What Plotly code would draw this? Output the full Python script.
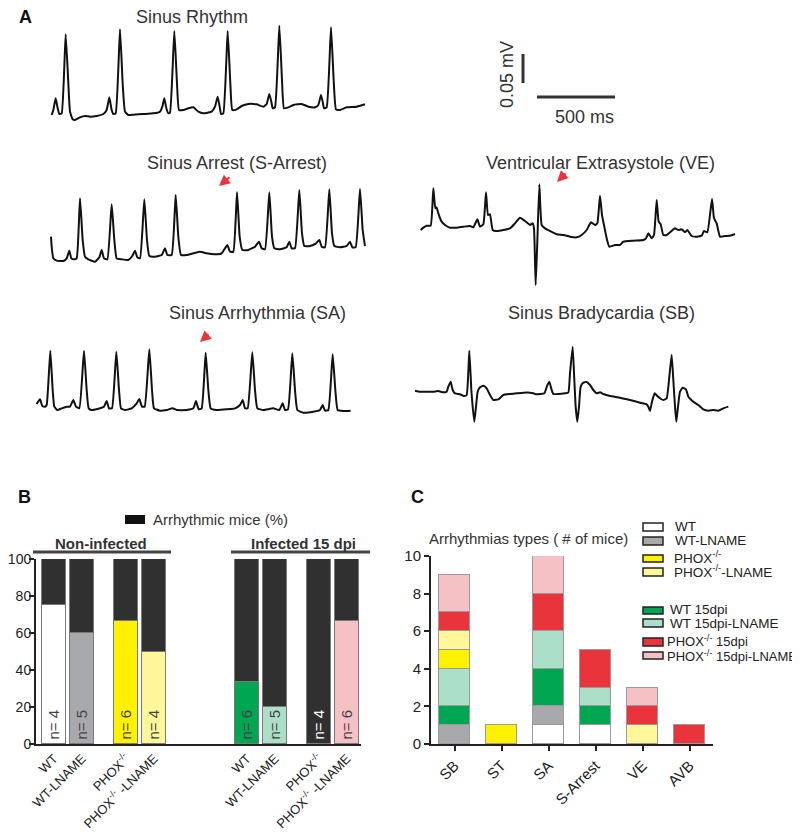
import plotly.graph_objects as go

FONT = "Arial, Liberation Sans, Helvetica, sans-serif"
INK = "#222222"

# ---------------- Panel A: digitised ECG traces ----------------
# time in samples (1 sample ~ 2.16 ms), amplitude in counts (1 count ~ 0.575 uV)
SR = [(155,75),(160,90),(167,125),(173,95),(178,78),(185,80),(197,317),(205,170),(210,85),(218,62),(225,60),
      (240,68),(255,72),(270,70),(290,72),(310,78),(320,90),(328,128),(335,90),(340,78),(347,80),(360,332),
      (368,170),(375,85),(385,75),(400,76),(430,78),(460,80),(480,85),(487,100),(493,125),(499,95),(505,80),
      (510,82),(523,327),(531,170),(537,90),(550,90),(565,95),(580,98),(595,85),(610,80),(635,85),(645,100),
      (653,130),(659,100),(663,78),(670,80),(683,327),(691,170),(697,90),(710,92),(725,102),(745,108),
      (770,107),(790,100),(800,108),(808,138),(814,115),(818,95),(825,98),(838,343),(846,180),(852,95),
      (865,98),(880,105),(905,108),(925,100),(945,98),(955,105),(963,135),(969,110),(972,95),(980,98),
      (993,338),(1001,180),(1008,92),(1020,90),(1040,98),(1070,100),(1095,107)]

S_ARREST = [(153,130),(155,100),(160,65),(170,58),(190,57),(200,65),(208,88),(214,65),(222,62),(230,65),
            (240,245),(248,120),(255,70),(265,62),(285,55),(298,68),(305,90),(312,65),(322,62),(335,227),
            (343,120),(350,65),(365,62),(385,60),(397,72),(405,88),(412,68),(420,65),(433,242),(441,120),
            (448,72),(465,70),(485,75),(495,95),(502,75),(515,75),(527,255),(535,130),(543,75),(560,75),
            (580,80),(600,85),(620,80),(645,77),(665,80),(675,95),(682,105),(690,85),(700,85),(711,263),
            (719,130),(727,90),(745,90),(765,100),(777,115),(785,95),(795,92),(808,263),(816,130),(823,95),
            (840,92),(860,98),(868,115),(875,95),(885,95),(898,270),(906,140),(913,102),(930,102),(948,110),
            (958,120),(965,100),(975,98),(988,272),(996,140),(1003,102),(1020,98),(1040,102),(1050,115),
            (1057,98),(1067,98),(1080,273),(1088,150),(1095,102)]

S_ARRHYTHMIA = [(50,48),(60,62),(67,42),(75,40),(80,45),(91,208),(98,90),(103,40),(112,30),(125,35),(140,40),
                (150,40),(160,60),(168,40),(178,35),(192,208),(200,90),(206,35),(215,30),(240,35),(252,40),
                (260,57),(267,35),(276,35),(289,205),(297,90),(303,35),(315,30),(335,35),(350,50),(358,63),
                (366,40),(374,40),(388,212),(396,90),(402,35),(420,28),(440,30),(458,35),(470,30),(500,30),
                (520,35),(528,57),(536,32),(545,35),(557,202),(565,90),(572,35),(590,30),(620,32),(645,35),
                (660,45),(668,60),(675,35),(683,35),(697,203),(705,90),(712,35),(730,30),(760,35),(778,30),
                (788,50),(795,30),(804,32),(817,200),(825,90),(832,30),(850,22),(880,25),(900,30),(908,45),
                (915,28),(925,30),(938,197),(946,90),(953,30),(970,27),(992,28)]

V_EXTRA = [(62,195),(70,202),(80,208),(92,208),(100,320),(106,260),(110,263),(115,245),(125,220),(135,210),
           (150,202),(170,202),(190,205),(210,207),(220,203),(232,227),(240,205),(250,212),(258,308),(264,240),
           (270,242),(278,195),(290,192),(310,195),(330,200),(345,215),(360,232),(375,222),(390,210),(398,215),
           (402,200),(407,30),(412,160),(418,332),(425,210),(435,200),(450,192),(470,182),(490,180),(510,175),
           (530,173),(545,180),(560,195),(573,218),(585,210),(592,215),(600,298),(606,240),(612,210),(620,170),
           (628,145),(645,150),(660,150),(670,160),(700,163),(730,165),(738,170),(745,185),(755,170),(762,180),
           (770,285),(776,220),(782,212),(790,180),(800,180),(812,190),(825,200),(835,195),(845,197),(855,188),
           (862,195),(875,177),(890,175),(905,178),(912,192),(922,188),(936,288),(942,230),(950,215),(960,175),
           (975,177),(990,178),(1005,183)]

S_BRADY = [(45,88),(60,85),(80,85),(100,85),(115,87),(130,83),(140,85),(145,100),(152,115),(158,90),(165,80),
           (180,77),(192,72),(200,75),(208,208),(214,90),(218,40),(223,-5),(228,40),(233,85),(240,98),(250,103),
           (260,95),(270,75),(280,60),(295,62),(310,75),(330,78),(350,80),(370,82),(390,82),(400,80),(410,77),
           (420,78),(433,80),(441,102),(448,115),(455,90),(460,78),(475,78),(495,80),(505,82),(510,140),
           (518,220),(523,120),(527,40),(532,-5),(537,40),(542,100),(550,112),(560,114),(570,105),(580,90),
           (590,80),(600,83),(610,78),(630,72),(660,67),(690,60),(720,52),(740,47),(745,40),(750,27),(756,55),
           (764,80),(772,72),(783,63),(790,60),(800,65),(808,130),(815,195),(820,120),(825,40),(829,-5),
           (834,40),(840,85),(848,97),(858,92),(865,70),(880,55),(895,45),(910,32),(925,28),(940,30),(955,28),
           (970,35),(985,40)]

# ---------------- Panel B ----------------
B_LABELS = ["WT", "WT-LNAME", "PHOX<sup>-/-</sup>", "PHOX<sup>-/-</sup> -LNAME",
            "WT", "WT-LNAME", "PHOX<sup>-/-</sup>", "PHOX<sup>-/-</sup> -LNAME"]
B_N = [4, 5, 6, 4, 6, 5, 4, 6]
B_NON_ARRHYTHMIC = [75, 60, 66.7, 50, 33.3, 20, 0, 66.7]
B_ARRHYTHMIC = [25, 40, 33.3, 50, 66.7, 80, 100, 33.3]

# ---------------- Panel C ----------------
C_TYPES = ["SB", "ST", "SA", "S-Arrest", "VE", "AVB"]
C_WT = [0, 0, 1, 1, 0, 0]
C_WT_LNAME = [1, 0, 1, 0, 0, 0]
C_WT15 = [1, 0, 2, 1, 0, 0]
C_WT15_LNAME = [2, 0, 2, 1, 0, 0]
C_PHOX = [1, 1, 0, 0, 0, 0]
C_PHOX_LNAME = [1, 0, 0, 0, 1, 0]
C_PHOX15 = [1, 0, 2, 2, 1, 1]
C_PHOX15_LNAME = [2, 0, 2, 0, 1, 0]

COL = {"WT": "#ffffff", "WT-L": "#a7a9ac", "PHOX": "#fff200", "PHOX-L": "#fff799",
       "WT15": "#00a651", "WT15-L": "#acdfc8", "PHOX15": "#e8343a", "PHOX15-L": "#f6c1c4"}
BLACK = "#303030"

# page layout helpers (the page body adds an 8 px offset)
OFF = 8
W, H = 800 - OFF, 835 - OFF
BSH = 3  # small right shift of panel B so its tick labels stay on the page

def px(x, y):
    return (x - OFF) / W, 1 - (y - OFF) / H

def xdom(a, b):
    return [(a - OFF) / W, (b - OFF) / W]

def ydom(top, bot):
    return [1 - (bot - OFF) / H, 1 - (top - OFF) / H]

fig = go.Figure()

# ---- ECG axes ----
ecg_specs = [  # (data, axis id, digitising crop (x, y, w, h), drawn box (x0, y0, x1, y1))
    (SR, 3, (0, 0, 400, 140), (10, 10, 400, 140)),
    (S_ARREST, 4, (0, 140, 400, 140), (10, 140, 400, 280)),
    (S_ARRHYTHMIA, 5, (20, 340, 360, 80), (20, 340, 380, 420)),
    (V_EXTRA, 6, (400, 175, 360, 120), (400, 175, 760, 295)),
    (S_BRADY, 7, (400, 340, 360, 80), (400, 340, 760, 425)),
]
for data, k, (cx, cy, cw, ch), (bx0, by0, bx1, by1) in ecg_specs:
    fig.add_trace(go.Scatter(x=[p[0] for p in data], y=[p[1] for p in data], mode="lines",
                             line=dict(color="#111111", width=2, shape="spline", smoothing=0.4),
                             xaxis=f"x{k}", yaxis=f"y{k}", hoverinfo="skip"))
    xr = [(bx0 - cx) * 3, (bx1 - cx) * 3]
    yr = [3 * ch - (by1 - cy) * 3, 3 * ch - (by0 - cy) * 3]
    fig.layout[f"xaxis{k}"] = dict(domain=xdom(bx0, bx1), range=xr, visible=False, anchor=f"y{k}",
                                   automargin=False)
    fig.layout[f"yaxis{k}"] = dict(domain=ydom(by0, by1), range=yr, visible=False, anchor=f"x{k}",
                                   automargin=False)

# ---- Panel B bars ----
BAR_POS = [0, 1, 2.57, 3.57, 6.89, 7.89, 9.46, 10.46]
b_colors = [COL["WT"], COL["WT-L"], COL["PHOX"], COL["PHOX-L"],
            COL["WT15"], COL["WT15-L"], COL["PHOX15"], COL["PHOX15-L"]]
b_outline = ["#7a7a7a"] * 6 + [COL["PHOX15"], "#7a7a7a"]
fig.add_trace(go.Bar(x=BAR_POS, y=B_NON_ARRHYTHMIC, width=0.86, marker=dict(color=b_colors,
              line=dict(color=b_outline, width=1.2)), xaxis="x", yaxis="y", hoverinfo="skip"))
fig.add_trace(go.Bar(x=BAR_POS, y=B_ARRHYTHMIC, width=0.86, marker=dict(color=BLACK,
              line=dict(color="#7a7a7a", width=1.2)), xaxis="x", yaxis="y", hoverinfo="skip"))

# ---- Panel C bars ----
c_series = [(C_WT, COL["WT"]), (C_WT_LNAME, COL["WT-L"]), (C_WT15, COL["WT15"]), (C_WT15_LNAME, COL["WT15-L"]),
            (C_PHOX, COL["PHOX"]), (C_PHOX_LNAME, COL["PHOX-L"]), (C_PHOX15, COL["PHOX15"]),
            (C_PHOX15_LNAME, COL["PHOX15-L"])]
for vals, c in c_series:
    fig.add_trace(go.Bar(x=list(range(len(C_TYPES))), y=vals, width=0.68,
                         marker=dict(color=c, line=dict(color="#9a9a9a", width=1)),
                         xaxis="x2", yaxis="y2", hoverinfo="skip"))

axis_common = dict(showline=True, linecolor=INK, linewidth=2, showgrid=False, zeroline=False,
                   tickfont=dict(family=FONT, size=15, color=INK), ticks="outside", ticklen=5,
                   tickwidth=1.5, tickcolor=INK, automargin=False)
fig.update_layout(
    template="none",
    xaxis=dict(domain=xdom(33 + BSH, 358 + BSH), range=[-0.643, 10.964], tickvals=BAR_POS, ticktext=B_LABELS,
               tickangle=-45, anchor="y", ticklabelstandoff=0,
               **{**axis_common, "ticks": "", "tickfont": dict(family=FONT, size=13, color=INK)}),
    yaxis=dict(domain=ydom(559, 744), range=[0, 100], tickvals=[0, 20, 40, 60, 80, 100],
               anchor="x", ticklabelstandoff=-5,
               **{**axis_common, "tickfont": dict(family=FONT, size=14, color=INK)}),
    xaxis2=dict(domain=xdom(431, 713), range=[-0.5, 5.5], tickvals=list(range(6)), ticktext=C_TYPES,
                tickangle=-45, anchor="y2", **axis_common),
    yaxis2=dict(domain=ydom(556, 744), range=[0, 10], tickvals=[0, 2, 4, 6, 8, 10],
                anchor="x2", **axis_common),
    barmode="stack", bargap=0, showlegend=False,
    width=W, height=H, margin=dict(l=0, r=0, t=0, b=0, pad=0),
    paper_bgcolor="white", plot_bgcolor="white",
    font=dict(family=FONT, color=INK),
)

ann = []
shapes = []

def txt(x, y, s, size=15, bold=False, xanchor="center", yanchor="middle", angle=0, color="#333333"):
    X, Y = px(x, y)
    ann.append(dict(x=X, y=Y, xref="paper", yref="paper", text=f"<b>{s}</b>" if bold else s,
                    showarrow=False, xanchor=xanchor, yanchor=yanchor, textangle=angle,
                    font=dict(family=FONT, size=size, color=color)))

def line(xa, ya, xb, yb, color="#333333", width=3):
    x0, y0 = px(xa, ya); x1, y1 = px(xb, yb)
    shapes.append(dict(type="line", xref="paper", yref="paper", x0=x0, y0=y0, x1=x1, y1=y1,
                       line=dict(color=color, width=width)))

def rect(xa, ya, xb, yb, fill, lc="#222222", lw=1.5):
    x0, y0 = px(xa, ya); x1, y1 = px(xb, yb)
    shapes.append(dict(type="rect", xref="paper", yref="paper", x0=x0, y0=y0, x1=x1, y1=y1,
                       fillcolor=fill, line=dict(color=lc, width=lw)))

# panel letters
for letter, (x, y) in [("A", (25, 17)), ("B", (24, 497)), ("C", (417, 497))]:
    txt(x, y, letter, size=18, bold=True, color="#111111")

# ECG titles
for s, (x, y) in [("Sinus Rhythm", (192, 17)), ("Sinus Arrest (S-Arrest)", (237, 163)),
                  ("Ventricular Extrasystole (VE)", (600, 163)), ("Sinus Arrhythmia (SA)", (257, 313)),
                  ("Sinus Bradycardia (SB)", (601, 313))]:
    txt(x, y, s, size=18)

# red arrows
for (tx, ty), (dx, dy) in [((219, 186), (12, -10)), ((200, 342), (10, -9)), ((557, 182), (10, -10))]:
    X, Y = px(tx, ty)
    ann.append(dict(x=X, y=Y, xref="paper", yref="paper", ax=dx, ay=dy, text="", showarrow=True,
                    arrowhead=2, arrowsize=1.1, arrowwidth=2, arrowcolor="#e8343a"))

# scale bars
line(523, 54, 523, 83)
line(537, 97, 615, 97)
txt(507, 75, "0.05 mV", size=18, angle=-90)
txt(584, 117, "500 ms", size=18)

# Panel B legend + group labels
rect(125, 515, 145, 524, "#111111", lw=0)
txt(151, 519, "Arrhythmic mice (%)", size=15, xanchor="left")
for (a, b), s, cx in [((30, 168), "Non-infected", 98), ((228, 367), "Infected 15 dpi", 300)]:
    line(a + BSH, 552, b + BSH, 552, color="#444444", width=3)
    txt(cx + BSH, 543, s, size=15, bold=True)

# n= labels inside bars
n_colors = ["#444444"] * 6 + ["#ffffff", "#444444"]
for p, n, c in zip(BAR_POS, B_N, n_colors):
    ann.append(dict(x=p, y=10.5, xref="x", yref="y", text=f"n= {n}", showarrow=False, textangle=-90,
                    xanchor="center", yanchor="middle", font=dict(family=FONT, size=15, color=c)))

# Panel C title and legend
txt(427, 538, "Arrhythmias types ( # of mice)", size=15, xanchor="left")
legend_rows = [("WT", COL["WT"], 523, 531, 673, 526, 13.5), ("WT-LNAME", COL["WT-L"], 537, 545, 673, 540, 13.5),
               ("PHOX<sup>-/-</sup>", COL["PHOX"], 555, 562, 672, 557, 13.5),
               ("PHOX<sup>-/-</sup>-LNAME", COL["PHOX-L"], 568, 576, 672, 571, 13.5),
               ("WT 15dpi", COL["WT15"], 607, 614, 668, 609, 13.5),
               ("WT 15dpi-LNAME", COL["WT15-L"], 619, 627, 668, 623, 13.5),
               ("PHOX<sup>-/-</sup> 15dpi", COL["PHOX15"], 638, 646, 665, 641, 13),
               ("PHOX<sup>-/-</sup> 15dpi-LNAME", COL["PHOX15-L"], 652, 659, 665, 656, 13)]
for s, c, top, bot, tx, ty, fs in legend_rows:
    rect(643, top, 663, bot, c)
    txt(tx, ty, s, size=fs, xanchor="left", color=INK)

fig.update_layout(annotations=ann, shapes=shapes)
fig.write_html("out.html")
